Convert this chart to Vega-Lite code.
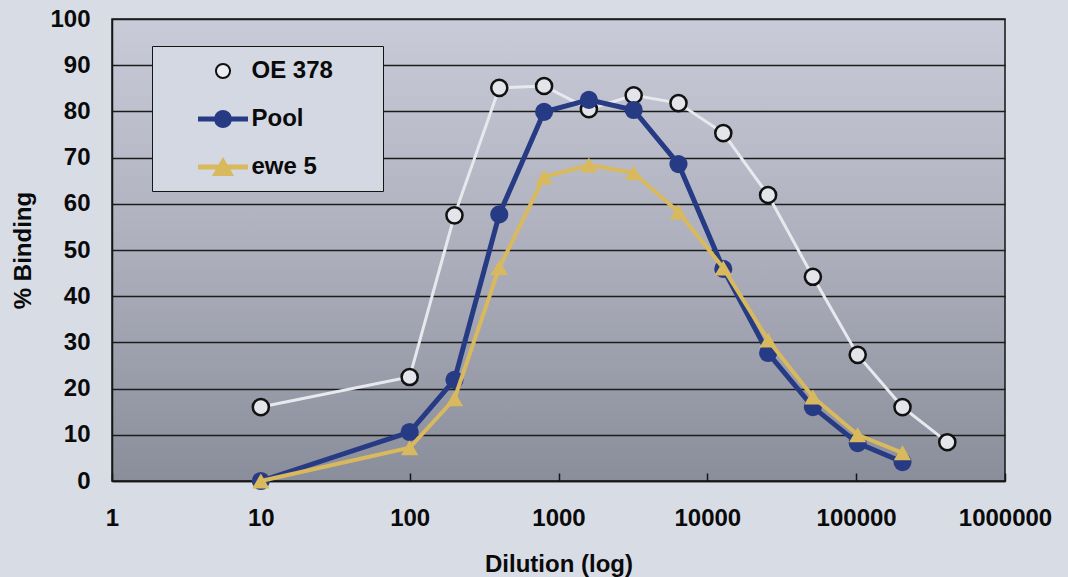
{
  "$schema": "https://vega.github.io/schema/vega-lite/v6.json",
  "width": 893,
  "height": 462,
  "autosize": {"type": "none"},
  "padding": {"left": 112, "top": 19, "right": 63, "bottom": 96},
  "background": "#d8dce5",
  "config": {
    "font": "Liberation Sans",
    "view": {
      "fill": {"gradient": "linear", "x1": 0, "y1": 0, "x2": 0, "y2": 1,
        "stops": [{"offset": 0, "color": "#c9ccd8"}, {"offset": 0.5, "color": "#adb0bc"}, {"offset": 1, "color": "#8a8d9a"}]},
      "stroke": "#151515",
      "strokeWidth": 1.5
    },
    "axis": {
      "labelFont": "Liberation Sans",
      "labelFontSize": 24,
      "labelFontWeight": "bold",
      "labelColor": "#0a0a0a",
      "titleFont": "Liberation Sans",
      "titleFontSize": 24,
      "titleFontWeight": "bold",
      "titleColor": "#0a0a0a",
      "domainColor": "#151515",
      "domainWidth": 1.5,
      "tickColor": "#151515",
      "tickWidth": 1.5
    }
  },
  "data": {
    "values": [
      {"series": "OE 378", "dilution": 10, "binding": 16.0},
      {"series": "OE 378", "dilution": 100, "binding": 22.5},
      {"series": "OE 378", "dilution": 200, "binding": 57.5},
      {"series": "OE 378", "dilution": 400, "binding": 85.1},
      {"series": "OE 378", "dilution": 800, "binding": 85.5},
      {"series": "OE 378", "dilution": 1600, "binding": 80.5},
      {"series": "OE 378", "dilution": 3200, "binding": 83.5},
      {"series": "OE 378", "dilution": 6400, "binding": 81.8},
      {"series": "OE 378", "dilution": 12800, "binding": 75.3},
      {"series": "OE 378", "dilution": 25600, "binding": 61.9},
      {"series": "OE 378", "dilution": 51200, "binding": 44.2},
      {"series": "OE 378", "dilution": 102400, "binding": 27.3},
      {"series": "OE 378", "dilution": 204800, "binding": 16.0},
      {"series": "OE 378", "dilution": 409600, "binding": 8.4},
      {"series": "Pool", "dilution": 10, "binding": 0},
      {"series": "Pool", "dilution": 100, "binding": 10.6},
      {"series": "Pool", "dilution": 200, "binding": 21.9},
      {"series": "Pool", "dilution": 400, "binding": 57.7},
      {"series": "Pool", "dilution": 800, "binding": 79.9},
      {"series": "Pool", "dilution": 1600, "binding": 82.5},
      {"series": "Pool", "dilution": 3200, "binding": 80.3},
      {"series": "Pool", "dilution": 6400, "binding": 68.6},
      {"series": "Pool", "dilution": 12800, "binding": 45.9},
      {"series": "Pool", "dilution": 25600, "binding": 27.7},
      {"series": "Pool", "dilution": 51200, "binding": 16.0},
      {"series": "Pool", "dilution": 102400, "binding": 8.2},
      {"series": "Pool", "dilution": 204800, "binding": 4.1},
      {"series": "ewe 5", "dilution": 10, "binding": 0},
      {"series": "ewe 5", "dilution": 100, "binding": 7.2},
      {"series": "ewe 5", "dilution": 200, "binding": 17.8},
      {"series": "ewe 5", "dilution": 400, "binding": 46.2},
      {"series": "ewe 5", "dilution": 800, "binding": 65.8},
      {"series": "ewe 5", "dilution": 1600, "binding": 68.4},
      {"series": "ewe 5", "dilution": 3200, "binding": 66.7},
      {"series": "ewe 5", "dilution": 6400, "binding": 58.2},
      {"series": "ewe 5", "dilution": 12800, "binding": 46.1},
      {"series": "ewe 5", "dilution": 25600, "binding": 30.5},
      {"series": "ewe 5", "dilution": 51200, "binding": 18.2},
      {"series": "ewe 5", "dilution": 102400, "binding": 10.0},
      {"series": "ewe 5", "dilution": 204800, "binding": 6.1}
    ]
  },
  "encoding": {
    "x": {
      "field": "dilution", "type": "quantitative",
      "scale": {"type": "log", "domain": [1, 1000000], "nice": false},
      "axis": {
        "title": "Dilution (log)",
        "values": [1, 10, 100, 1000, 10000, 100000, 1000000],
        "format": "d",
        "grid": false,
        "tickSize": -8,
        "labelPadding": 33,
        "labelFlush": false,
        "labelOverlap": false,
        "titlePadding": 22
      }
    },
    "y": {
      "field": "binding", "type": "quantitative",
      "scale": {"domain": [0, 100], "nice": false},
      "axis": {
        "title": "% Binding",
        "values": [0, 10, 20, 30, 40, 50, 60, 70, 80, 90, 100],
        "grid": true,
        "gridColor": "#1c1c1c",
        "gridWidth": 1.5,
        "gridOpacity": 1,
        "ticks": false,
        "labelPadding": 22,
        "labelFlush": false,
        "labelOverlap": false,
        "titlePadding": 14
      }
    }
  },
  "layer": [
    {
      "transform": [{"filter": "datum.series == 'OE 378'"}],
      "mark": {"type": "line", "color": "#e7e9ef", "strokeWidth": 3}
    },
    {
      "transform": [{"filter": "datum.series == 'OE 378'"}],
      "mark": {"type": "point", "shape": "circle", "filled": true, "fill": "#e3e5eb", "stroke": "#111111", "strokeWidth": 2.5, "size": 260, "opacity": 1}
    },
    {
      "transform": [{"filter": "datum.series == 'Pool'"}],
      "mark": {"type": "line", "color": "#263b83", "strokeWidth": 5}
    },
    {
      "transform": [{"filter": "datum.series == 'Pool'"}],
      "mark": {"type": "point", "shape": "circle", "filled": true, "color": "#263b83", "size": 330, "opacity": 1}
    },
    {
      "transform": [{"filter": "datum.series == 'ewe 5'"}],
      "mark": {"type": "line", "color": "#d9b95d", "strokeWidth": 4}
    },
    {
      "transform": [{"filter": "datum.series == 'ewe 5'"}],
      "mark": {"type": "point", "shape": "triangle-up", "filled": true, "color": "#d9b95d", "size": 300, "opacity": 1}
    },
    {
      "mark": {"type": "point", "filled": true, "opacity": 0},
      "encoding": {
        "shape": {
          "field": "series", "type": "nominal",
          "scale": {
            "domain": ["OE 378", "Pool", "ewe 5"],
            "range": [
              "M-0.3,0A0.3,0.3 0 1,1 0.3,0A0.3,0.3 0 1,1 -0.3,0ZM0,-0.8M0,0.8M6.58,0",
              "M-1.02,-0.064L-0.334,-0.064A0.34,0.34 0 0,1 0.334,-0.064L1.02,-0.064L1.02,0.064L0.334,0.064A0.34,0.34 0 0,1 -0.334,0.064L-1.02,0.064ZM0,-0.8M0,0.8M6.58,0",
              "M-1.02,-0.064L-0.162,-0.064L0,-0.34L0.162,-0.064L1.02,-0.064L1.02,0.064L0.238,0.064L0.40,0.34L-0.40,0.34L-0.238,0.064L-1.02,0.064ZM0,-0.8M0,0.8M6.58,0"
            ]
          },
          "legend": {
            "title": null,
            "orient": "none",
            "legendX": 40,
            "legendY": 27,
            "padding": 0.5,
            "fillColor": "#d4d8e2",
            "strokeColor": "#151515",
            "symbolSize": 2209,
            "symbolStrokeWidth": 2,
            "symbolOpacity": 1,
            "symbolOffset": 46,
            "labelOffset": 4,
            "rowPadding": 0,
            "labelFont": "Liberation Sans",
            "labelFontSize": 24,
            "labelFontWeight": "bold",
            "labelColor": "#0a0a0a"
          }
        },
        "fill": {
          "field": "series", "type": "nominal",
          "scale": {"domain": ["OE 378", "Pool", "ewe 5"], "range": ["#eceef2", "#263b83", "#d9b95d"]}
        },
        "stroke": {
          "field": "series", "type": "nominal",
          "scale": {"domain": ["OE 378", "Pool", "ewe 5"], "range": ["#111111", "#263b83", "#d9b95d"]}
        }
      }
    }
  ]
}
